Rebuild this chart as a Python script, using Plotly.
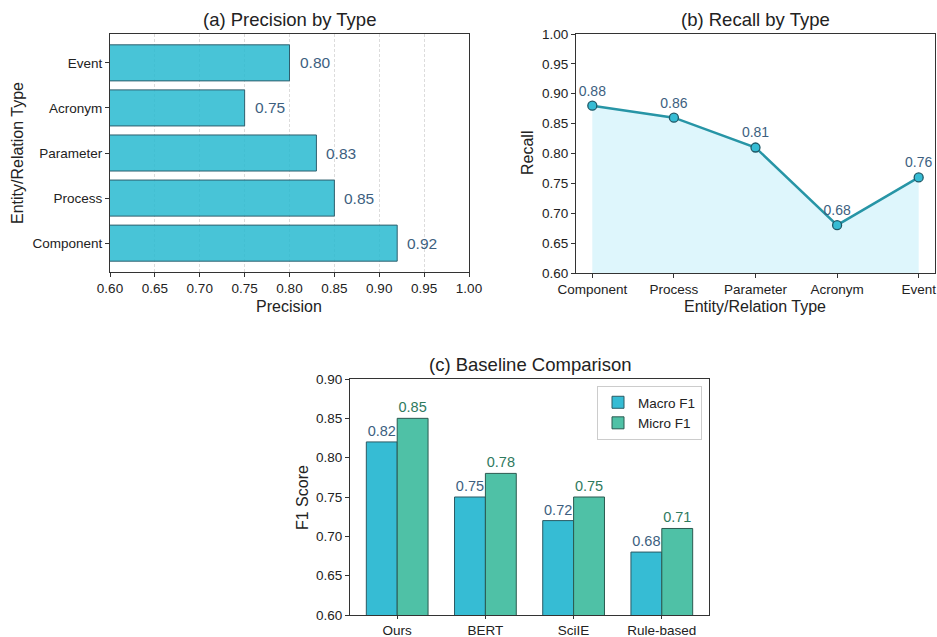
import plotly.graph_objects as go

# ---- data ----
prec_types = ["Component", "Process", "Parameter", "Acronym", "Event"]
prec_vals = [0.92, 0.85, 0.83, 0.75, 0.80]

rec_types = ["Component", "Process", "Parameter", "Acronym", "Event"]
rec_vals = [0.88, 0.86, 0.81, 0.68, 0.76]

methods = ["Ours", "BERT", "SciIE", "Rule-based"]
macro_f1 = [0.82, 0.75, 0.72, 0.68]
micro_f1 = [0.85, 0.78, 0.75, 0.71]

ticks_a = [0.60, 0.65, 0.70, 0.75, 0.80, 0.85, 0.90, 0.95, 1.00]
ticks_b = [0.60, 0.65, 0.70, 0.75, 0.80, 0.85, 0.90, 0.95, 1.00]
ticks_c = [0.60, 0.65, 0.70, 0.75, 0.80, 0.85, 0.90]

W, H = 937, 637
FONT = "Liberation Sans, Arial, sans-serif"
SLATE = "#3d5f7f"
GREEN = "#2f7a5e"
AX = "#333333"

def px_x(p):
    return p / W

def px_y(p):
    return 1 - p / H

fig = go.Figure()

# (a) horizontal bars
fig.add_trace(go.Bar(
    y=list(range(len(prec_types))), x=prec_vals, orientation="h",
    width=0.8,
    marker=dict(color="rgba(40,186,208,0.85)", line=dict(color="#2f5f6e", width=1)),
    xaxis="x", yaxis="y", showlegend=False, hoverinfo="x+y",
))

# (b) line with fill
fig.add_trace(go.Scatter(
    x=list(range(len(rec_types))), y=rec_vals, mode="lines+markers+text",
    fill="tozeroy", fillcolor="rgba(190,238,250,0.5)",
    line=dict(color="#2795a6", width=2.5),
    marker=dict(size=9, color="#36bcd4", line=dict(color="#1f5866", width=1.3)),
    text=[f"{v:.2f}" for v in rec_vals], textposition="top center",
    textfont=dict(size=14, color=SLATE, family=FONT),
    cliponaxis=False,
    xaxis="x2", yaxis="y2", showlegend=False,
))

# (c) grouped bars
fig.add_trace(go.Bar(
    x=methods, y=macro_f1, name="Macro F1",
    marker=dict(color="#36bcd4", line=dict(color="#2b5a64", width=1)),
    text=[f"{v:.2f}" for v in macro_f1], textposition="outside",
    textfont=dict(size=14.5, color=SLATE, family=FONT),
    constraintext="none", cliponaxis=False,
    xaxis="x3", yaxis="y3",
))
fig.add_trace(go.Bar(
    x=methods, y=micro_f1, name="Micro F1",
    marker=dict(color="#4fc1a6", line=dict(color="#2b5a50", width=1)),
    text=[f"{v:.2f}" for v in micro_f1], textposition="outside",
    textfont=dict(size=14.5, color=GREEN, family=FONT),
    constraintext="none", cliponaxis=False,
    xaxis="x3", yaxis="y3",
))

axis_common = dict(showline=True, mirror=True, linecolor=AX, linewidth=1.2,
                   ticks="outside", tickcolor=AX, automargin=False,
                   tickfont=dict(size=13.5, color="#222", family=FONT),
                   zeroline=False)

fig.update_layout(
    width=W, height=H,
    margin=dict(l=0, r=0, t=0, b=0),
    paper_bgcolor="white", plot_bgcolor="white",
    font=dict(family=FONT, color="#222"),
    barmode="group", bargap=0.3, bargroupgap=0,
    xaxis=dict(domain=[px_x(110), px_x(469)], anchor="y", range=[0.6, 1.0],
               tickvals=ticks_a, ticktext=[f"{t:.2f}" for t in ticks_a],
               showgrid=True, gridcolor="#dcdcdc", griddash="3px,2px", gridwidth=1,
               ticklen=4, **axis_common),
    yaxis=dict(domain=[px_y(272), px_y(34)], anchor="x", range=[-0.64, 4.64],
               tickvals=list(range(len(prec_types))), ticktext=prec_types,
               showgrid=False, ticklen=4, **axis_common),
    xaxis2=dict(domain=[px_x(576), px_x(935)], anchor="y2", range=[-0.2, 4.2],
                tickvals=list(range(len(rec_types))), ticktext=rec_types,
                showgrid=False, ticklen=4, **axis_common),
    yaxis2=dict(domain=[px_y(273), px_y(34)], anchor="x2", range=[0.6, 1.0],
                tickvals=ticks_b, ticktext=[f"{t:.2f}" for t in ticks_b],
                showgrid=False, ticklen=4, **axis_common),
    xaxis3=dict(domain=[px_x(350), px_x(709)], anchor="y3", range=[-0.535, 3.535],
                showgrid=False, ticklen=3, **axis_common),
    yaxis3=dict(domain=[px_y(615), px_y(379)], anchor="x3", range=[0.6, 0.9],
                tickvals=ticks_c, ticktext=[f"{t:.2f}" for t in ticks_c],
                showgrid=False, ticklen=4, **axis_common),
    legend=dict(x=px_x(702), y=px_y(386), xanchor="right", yanchor="top",
                bgcolor="white", bordercolor="#cccccc", borderwidth=1,
                font=dict(size=13.5, color="#222", family=FONT),
                tracegroupgap=2),
)

ann = []
def add_text(x, y, text, size, angle=0):
    ann.append(dict(x=px_x(x), y=px_y(y), xref="paper", yref="paper", text=text,
                    showarrow=False, font=dict(size=size, color="#222", family=FONT),
                    textangle=angle, xanchor="center", yanchor="middle"))

add_text(289, 20, "(a) Precision by Type", 18.5)
add_text(755, 20, "(b) Recall by Type", 18.5)
add_text(530, 364, "(c) Baseline Comparison", 18.5)
add_text(289, 306, "Precision", 16)
add_text(17, 153, "Entity/Relation Type", 16, -90)
add_text(755, 307, "Entity/Relation Type", 16)
add_text(527, 153, "Recall", 16, -90)
add_text(302, 498, "F1 Score", 16, -90)

# value labels for (a), placed by data values
for i, v in enumerate(prec_vals):
    ann.append(dict(x=v, y=i, xref="x", yref="y", text=f"{v:.2f}", showarrow=False,
                    xanchor="left", yanchor="middle", xshift=8,
                    font=dict(size=15.5, color=SLATE, family=FONT)))

fig.update_layout(annotations=ann)

fig.write_html("out.html")
